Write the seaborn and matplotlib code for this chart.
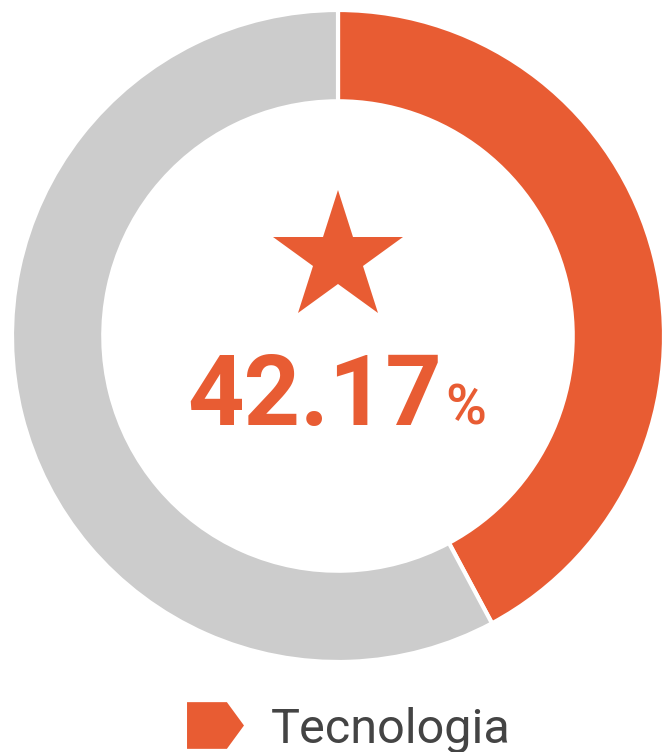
import matplotlib
matplotlib.use("Agg")
import matplotlib.pyplot as plt
from matplotlib.lines import Line2D
import seaborn as sns

# ─── Data ─────────────────────────────────────────────────────────────────────
categories = ["Tecnologia", "Outros"]
shares = [42.17, 57.83]
colors = ["#E85C33", "#CCCCCC"]
center_label = "42.17"

# ─── Style ────────────────────────────────────────────────────────────────────
sns.set_theme(style="white")
plt.rcParams["font.family"] = ["Roboto", "DejaVu Sans"]

fig = plt.figure(figsize=(6.64, 7.52), dpi=100)
# donut centred at (338, 336) px from top-left, outer radius 326 px
ax = fig.add_axes([12 / 664, 90 / 752, 652 / 664, 652 / 752])

ax.pie(
    shares,
    colors=colors,
    startangle=90,
    counterclock=False,
    radius=1.0,
    wedgeprops=dict(width=0.28, edgecolor="white", linewidth=3),
)
ax.set_xlim(-1, 1)
ax.set_ylim(-1, 1)
ax.set_aspect("equal")
ax.axis("off")

# star + value in the hole
ax.plot(0, 0.239, marker="*", markersize=98, color=colors[0], markeredgewidth=0)
ax.text(0.318, -0.273, center_label, ha="right", va="baseline",
        fontsize=71, fontweight="bold", color=colors[0])
ax.text(0.33, -0.273, "%", ha="left", va="baseline",
        fontsize=40, fontweight="medium", color=colors[0])

# ─── Legend ───────────────────────────────────────────────────────────────────
tag = [(-1, -0.82), (0.4, -0.82), (1, 0), (0.4, 0.82), (-1, 0.82)]
handle = Line2D([], [], linestyle="none", marker=tag, markersize=41,
                color=colors[0], markeredgewidth=0)
fig.legend(handles=[handle], labels=[categories[0]], loc="lower center",
           bbox_to_anchor=(0.525, -0.046), frameon=False, fontsize=35,
           labelcolor="#444444", handlelength=1.2, handletextpad=0.55,
           borderpad=0.2)

fig.savefig("out.png", dpi=100)
